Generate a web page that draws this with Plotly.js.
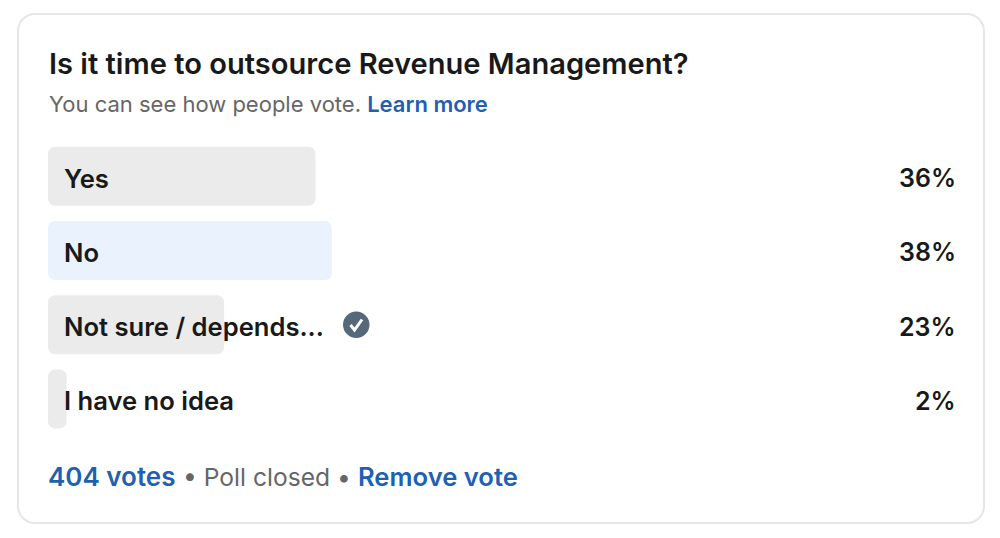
<!DOCTYPE html>
<html>
<head>
<meta charset="utf-8">
<script src="https://cdn.plot.ly/plotly-3.0.1.min.js"></script>
<style>html,body{margin:0;padding:0;background:#fff}#c{width:1000px;height:538px}</style>
</head>
<body>
<div id="c"></div>
<script>
// Data
var categories = ["Yes", "No", "Not sure / depends...", "I have no idea"];
var barValues = [36, 38.2, 23.7, 2.5];           // drawn bar lengths (the labels are rounded)
var percentLabels = ["36%", "38%", "23%", "2%"];
var barColors = ["#ebebeb", "#e9f2fd", "#ebebeb", "#ebebeb"];
var questionTitle = "Is it time to outsource Revenue Management?";
var BLUE = "#1f5fb4", GREY = "#666666", INK = "#191919";

var W = 1000, H = 538;
function px(x){ return x / W; }
function py(y){ return 1 - y / H; }
function pathPx(cmds){ // pixel-space layout path -> paper coordinates
  return cmds.map(function(c){
    return c[0] + (c.length > 1 ? px(c[1]) + "," + py(c[2]) : "");
  }).join(" ");
}
function rrect(x0, y0, x1, y1, r){
  var k = r * 0.45;
  return "M" + px(x0 + r) + "," + py(y0) + " L" + px(x1 - r) + "," + py(y0) +
    " C" + px(x1 - k) + "," + py(y0) + " " + px(x1) + "," + py(y0 + k) + " " + px(x1) + "," + py(y0 + r) +
    " L" + px(x1) + "," + py(y1 - r) +
    " C" + px(x1) + "," + py(y1 - k) + " " + px(x1 - k) + "," + py(y1) + " " + px(x1 - r) + "," + py(y1) +
    " L" + px(x0 + r) + "," + py(y1) +
    " C" + px(x0 + k) + "," + py(y1) + " " + px(x0) + "," + py(y1 - k) + " " + px(x0) + "," + py(y1 - r) +
    " L" + px(x0) + "," + py(y0 + r) +
    " C" + px(x0) + "," + py(y0 + k) + " " + px(x0 + k) + "," + py(y0) + " " + px(x0 + r) + "," + py(y0) + " Z";
}

// A tiny non-zero base makes the library round the corners at both ends of a bar
var barBase = barValues.map(function(){ return 0.001; });

var traces = [
  {type:"bar", orientation:"h", y:categories, x:barValues, base:barBase, width:0.795,
   marker:{color:barColors, cornerradius:7, line:{width:0}}, hoverinfo:"skip", showlegend:false}
];

var annotations = [];
categories.forEach(function(c, i){
  annotations.push({xref:"x", yref:"y", x:0, y:c, xanchor:"left", yanchor:"middle", xshift:15, yshift:-2,
    text:c, showarrow:false, borderpad:0, font:{family:"Inter", size:25.6, color:INK, weight:600}});
  annotations.push({xref:"paper", yref:"y", x:px(955), y:c, xanchor:"right", yanchor:"middle", xshift:2, yshift:-2,
    text:percentLabels[i], showarrow:false, borderpad:0, font:{family:"Inter", size:25, color:INK, weight:600}});
});
annotations.push({xref:"paper", yref:"paper", x:px(48), y:py(104), xanchor:"left", yanchor:"middle",
  text:'You can see how people vote. <span style="color:' + BLUE + ';font-weight:600">Learn more</span>',
  showarrow:false, borderpad:0, font:{family:"Inter", size:22, color:GREY}});
annotations.push({xref:"paper", yref:"paper", x:px(46.5), y:py(476.5), xanchor:"left", yanchor:"middle",
  text:"404 votes", showarrow:false, borderpad:0, font:{family:"Inter", size:26, color:BLUE, weight:600}});
annotations.push({xref:"paper", yref:"paper", x:px(266.5), y:py(476.5), xanchor:"center", yanchor:"middle",
  text:"• Poll closed •", showarrow:false, borderpad:0, font:{family:"Inter", size:24.6, color:GREY}});
annotations.push({xref:"paper", yref:"paper", x:px(356.5), y:py(476.5), xanchor:"left", yanchor:"middle",
  text:"Remove vote", showarrow:false, borderpad:0, font:{family:"Inter", size:25.6, color:BLUE, weight:600}});

var shapes = [
  {type:"path", xref:"paper", yref:"paper", path:rrect(18, 14, 984, 523, 17),
   line:{color:"#e6e6e6", width:2}, fillcolor:"#ffffff", layer:"below"},
  {type:"circle", xref:"paper", yref:"paper", x0:px(343), x1:px(369.5), y0:py(338), y1:py(311.5),
   line:{width:0}, fillcolor:"#56687a", layer:"above"},
  {type:"path", xref:"paper", yref:"paper",
   path:pathPx([["M",350.5,325],["L",354.5,330],["L",362,319.5]]),
   line:{color:"#ffffff", width:3}, layer:"above"}
];

var layout = {
  width:W, height:H,
  margin:{l:0, r:0, t:0, b:0, pad:0},
  paper_bgcolor:"#ffffff", plot_bgcolor:"rgba(0,0,0,0)",
  barmode:"overlay",
  showlegend:false,
  title:{text:questionTitle, x:px(49), xref:"paper", xanchor:"left", y:py(64), yref:"paper", yanchor:"middle",
    font:{family:"Inter", size:29.1, color:INK, weight:600}},
  xaxis:{domain:[px(48), px(951.5)], range:[0, 121.6], visible:false, fixedrange:true},
  yaxis:{domain:[py(436), py(139.2)], type:"category", categoryorder:"array", categoryarray:categories,
    autorange:"reversed", visible:false, fixedrange:true},
  annotations:annotations,
  shapes:shapes
};
Plotly.newPlot("c", traces, layout, {displayModeBar:false, staticPlot:true});
</script>
</body>
</html>
